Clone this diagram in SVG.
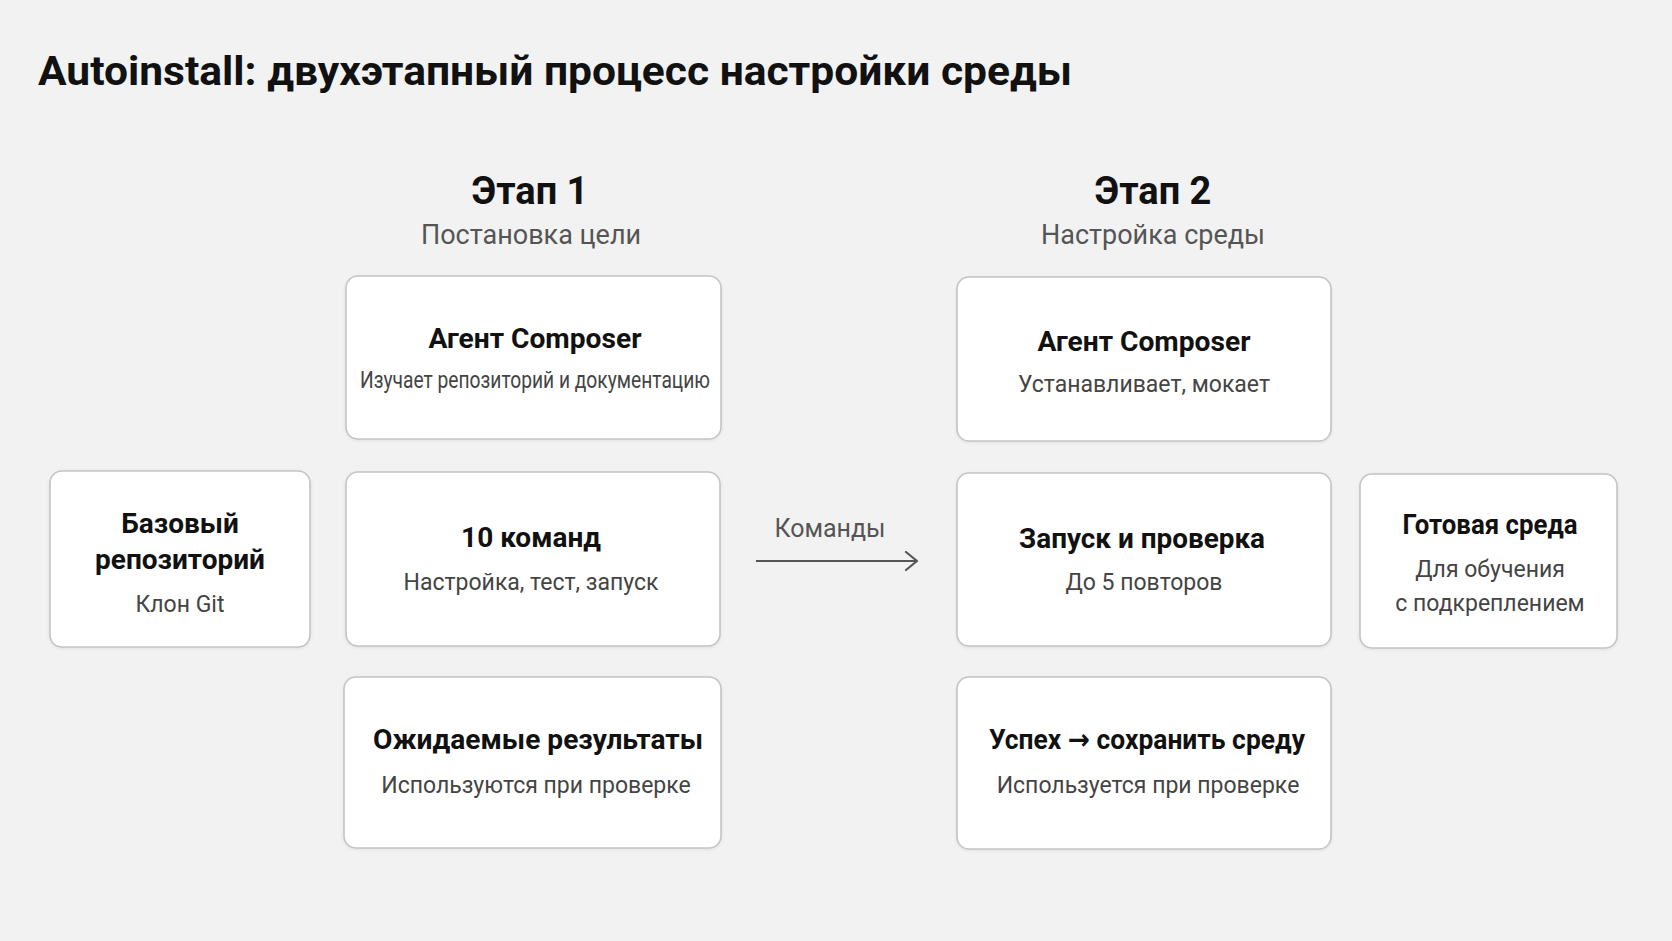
<svg xmlns="http://www.w3.org/2000/svg" width="1672" height="941" viewBox="0 0 1672 941">
<defs>
<style>
.bg{fill:#f2f2f2}
.box{fill:#ffffff;stroke:#c4c4c4;stroke-width:1.6}
.t{font-family:Roboto,"Noto Sans","DejaVu Sans",sans-serif;text-anchor:middle}
.h{font-weight:700;fill:#111111;font-size:28px}
.s{font-weight:400;fill:#444444;font-size:23px}
.stage{font-weight:700;fill:#111111;font-size:38px}
.stsub{font-weight:400;fill:#555555;font-size:27px}
.conn{stroke:#555555;stroke-width:2.2;fill:none}
</style>
<filter id="sh" x="-5%" y="-5%" width="110%" height="115%">
<feDropShadow dx="0" dy="1" stdDeviation="1.5" flood-color="#000000" flood-opacity="0.08"/>
</filter>
<marker id="arr" markerWidth="16" markerHeight="20" refX="14" refY="10" orient="auto" markerUnits="userSpaceOnUse">
<path d="M3,1 L14,10 L3,19" fill="none" stroke="#555555" stroke-width="2.2" stroke-linecap="round" stroke-linejoin="round"/>
</marker>
</defs>
<rect class="bg" x="0" y="0" width="1672" height="941"/>
<text x="38" y="85" font-family="Roboto,'Noto Sans',sans-serif" font-weight="700" font-size="40" fill="#111111" textLength="1034" lengthAdjust="spacingAndGlyphs">Autoinstall: двухэтапный процесс настройки среды</text>

<g id="stage1">
<text class="t stage" x="530" y="204">Этап 1</text>
<text class="t stsub" x="531" y="244">Постановка цели</text>
</g>
<g id="stage2">
<text class="t stage" x="1153" y="204">Этап 2</text>
<text class="t stsub" x="1153" y="244">Настройка среды</text>
</g>

<g id="connectors">
<line class="conn" x1="756" y1="561" x2="917" y2="561" marker-end="url(#arr)"/>
<text class="t" x="830" y="537" font-size="25" fill="#555555">Команды</text>
</g>

<g id="base-repo">
<rect class="box" filter="url(#sh)" x="50" y="471" width="260" height="176" rx="12"/>
<text class="t h" x="180" y="533">Базовый</text>
<text class="t h" x="180" y="569">репозиторий</text>
<text class="t s" x="180" y="612">Клон Git</text>
</g>

<g id="composer1">
<rect class="box" filter="url(#sh)" x="346" y="276" width="375" height="163" rx="12"/>
<text class="t h" x="535" y="348" textLength="213" lengthAdjust="spacingAndGlyphs">Агент Composer</text>
<text class="t s" x="535" y="388" textLength="350" lengthAdjust="spacingAndGlyphs">Изучает репозиторий и документацию</text>
</g>

<g id="commands">
<rect class="box" filter="url(#sh)" x="346" y="472" width="374" height="174" rx="12"/>
<text class="t h" x="531" y="547">10 команд</text>
<text class="t s" x="531" y="590">Настройка, тест, запуск</text>
</g>

<g id="expected">
<rect class="box" filter="url(#sh)" x="344" y="677" width="377" height="171" rx="12"/>
<text class="t h" x="538" y="749" textLength="330" lengthAdjust="spacingAndGlyphs">Ожидаемые результаты</text>
<text class="t s" x="536" y="793">Используются при проверке</text>
</g>

<g id="composer2">
<rect class="box" filter="url(#sh)" x="957" y="277" width="374" height="164" rx="12"/>
<text class="t h" x="1144" y="351" textLength="213" lengthAdjust="spacingAndGlyphs">Агент Composer</text>
<text class="t s" x="1144" y="392">Устанавливает, мокает</text>
</g>

<g id="run-check">
<rect class="box" filter="url(#sh)" x="957" y="473" width="374" height="173" rx="12"/>
<text class="t h" x="1142" y="548" textLength="246" lengthAdjust="spacingAndGlyphs">Запуск и проверка</text>
<text class="t s" x="1144" y="590">До 5 повторов</text>
</g>

<g id="success">
<rect class="box" filter="url(#sh)" x="957" y="677" width="374" height="172" rx="12"/>
<text class="t h" x="1147" y="749" textLength="316" lengthAdjust="spacingAndGlyphs">Успех → сохранить среду</text>
<text class="t s" x="1148" y="793">Используется при проверке</text>
</g>

<g id="ready-env">
<rect class="box" filter="url(#sh)" x="1360" y="474" width="257" height="174" rx="12"/>
<text class="t h" x="1490" y="534" textLength="175" lengthAdjust="spacingAndGlyphs">Готовая среда</text>
<text class="t s" x="1490" y="577">Для обучения</text>
<text class="t s" x="1490" y="611">с подкреплением</text>
</g>
</svg>
